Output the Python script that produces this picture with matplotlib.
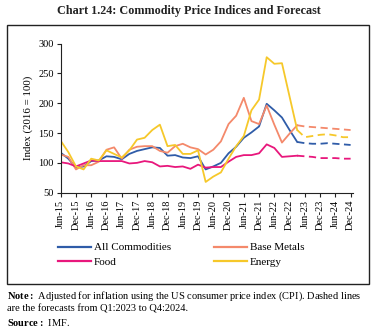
import numpy as np
import matplotlib.pyplot as plt
from matplotlib.patches import Rectangle
from matplotlib.lines import Line2D

plt.rcParams['font.family'] = ['Liberation Serif', 'DejaVu Serif']
plt.rcParams['mathtext.fontset'] = 'custom'
plt.rcParams['mathtext.rm'] = 'Liberation Serif'
plt.rcParams['mathtext.bf'] = 'Liberation Serif:bold'

# Quarterly, Jun-15 (Q2 2015) .. Dec-24 (Q4 2024)
tick_labels = ['Jun-15', 'Dec-15', 'Jun-16', 'Dec-16', 'Jun-17', 'Dec-17', 'Jun-18',
               'Dec-18', 'Jun-19', 'Dec-19', 'Jun-20', 'Dec-20', 'Jun-21', 'Dec-21',
               'Jun-22', 'Dec-22', 'Jun-23', 'Dec-23', 'Jun-24', 'Dec-24']

# actual values Jun-15 .. Mar-23
all_comm = [117, 107, 92, 94, 103, 104, 111, 110, 106, 115, 120, 123, 126, 125, 112, 113,
            109, 108, 111, 89, 94, 100, 116, 127, 142, 151, 161, 199, 188, 176, 155, 135]
base_metals = [114, 110, 89, 96, 96, 102, 122, 126, 107, 122, 127, 128, 128, 120, 117, 128,
               132, 126, 123, 114, 122, 136, 165, 179, 209, 170, 165, 196, 164, 134, 149, 163]
food = [101, 99, 94, 99, 104, 103, 103, 103, 103, 99, 100, 103, 101, 94, 95, 93,
        94, 90, 97, 92, 93, 93, 102, 110, 113, 113, 116, 131, 125, 110, 111, 112]
energy = [137, 118, 94, 89, 107, 104, 121, 115, 109, 121, 139, 142, 155, 164, 128, 130,
          115, 115, 121, 68, 77, 84, 107, 128, 145, 188, 206, 277, 266, 267, 211, 155]

# forecasts Mar-23 .. Dec-24
all_comm_f = [135, 133, 132, 132, 133, 132, 131, 130]
base_metals_f = [163, 161, 160, 159, 158, 157, 156, 155]
food_f = [112, 111, 110, 108, 108, 108, 107, 107]
energy_f = [155, 143, 145, 147, 148, 146, 143, 143]

colors = {'All Commodities': '#2f5ca8', 'Base Metals': '#f4896b',
          'Food': '#e8177c', 'Energy': '#f6c82a'}

fig = plt.figure(figsize=(3.77, 3.36), dpi=100)
W, H = 377, 336

# outer frame
fig.patches.append(Rectangle((7 / W, 1 - 284 / H), 362 / W, 259 / H, transform=fig.transFigure,
                             fill=False, edgecolor='#222222', linewidth=1.0))

fig.text(0.5, 1 - 11 / H, 'Chart 1.24: Commodity Price Indices and Forecast',
         ha='center', va='center', fontsize=8.7, fontweight='bold', color='#222222')

ax = fig.add_axes([60.7 / W, 1 - 192.7 / H, 292.2 / W, 149.2 / H])

series = [('All Commodities', all_comm, all_comm_f),
          ('Base Metals', base_metals, base_metals_f),
          ('Food', food, food_f),
          ('Energy', energy, energy_f)]

x_act = np.arange(len(all_comm))
x_fc = np.arange(len(all_comm) - 1, len(all_comm) - 1 + len(all_comm_f))
for name, act, fc in series:
    ax.plot(x_act, act, color=colors[name], linewidth=1.3)
    ax.plot(x_fc, fc, color=colors[name], linewidth=1.3, linestyle=(0, (4, 2.5)))

ax.set_xlim(0, 38.3)
ax.set_ylim(50, 300)
ax.set_yticks(range(50, 301, 50))
ax.set_xticks(np.arange(0, 39, 2))
ax.set_xticklabels(tick_labels, rotation=90)
ax.tick_params(axis='both', labelsize=7.5, length=3, width=0.8, color='#222222', pad=2)
for s in ['top', 'right']:
    ax.spines[s].set_visible(False)
for s in ['left', 'bottom']:
    ax.spines[s].set_linewidth(0.8)
    ax.spines[s].set_color('#222222')
ax.set_ylabel('Index (2016 = 100)', fontsize=7.8, labelpad=4)

handles = [Line2D([], [], color=colors[n], linewidth=1.6) for n in
           ['All Commodities', 'Food', 'Base Metals', 'Energy']]
fig.legend(handles, ['All Commodities', 'Food', 'Base Metals', 'Energy'], ncol=2,
           loc='center left', bbox_to_anchor=(48 / W, 1 - 255 / H), frameon=False,
           fontsize=8, handlelength=3.0, handletextpad=0.2, columnspacing=3.9,
           labelspacing=0.45)

fig.text(7 / W, 1 - 296 / H, r'$\bf{Note:}$ Adjusted for inflation using the US consumer price index (CPI). Dashed lines',
         fontsize=7.5, va='center', ha='left')
fig.text(7 / W, 1 - 309 / H, 'are the forecasts from Q1:2023 to Q4:2024.',
         fontsize=7.5, va='center', ha='left')
fig.text(7 / W, 1 - 322 / H, r'$\bf{Source:}$ IMF.', fontsize=7.5, va='center', ha='left')

fig.savefig('out.png', dpi=100)
